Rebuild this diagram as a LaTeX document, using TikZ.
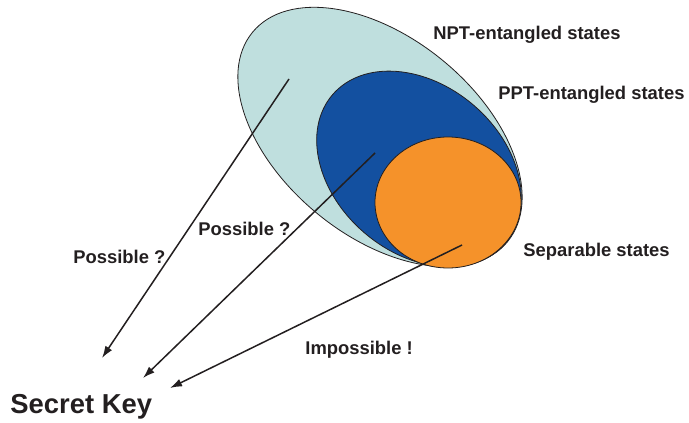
\documentclass[tikz,border=0pt]{standalone}
\usepackage{fontspec}
\setmainfont{Liberation Sans}
\usetikzlibrary{arrows.meta}
\definecolor{nptcol}{RGB}{191,223,222}
\definecolor{pptcol}{RGB}{19,80,160}
\definecolor{sepcol}{RGB}{245,146,42}
\definecolor{inkcol}{RGB}{35,31,32}
\begin{document}
\begin{tikzpicture}[x=0.5pt,y=-0.5pt,
    region/.style={draw=inkcol,line width=0.4pt},
    lbl/.style={anchor=base west,inner sep=0pt,text=inkcol,font=\fontsize{9.2}{11}\selectfont\bfseries},
    arr/.style={draw=inkcol,line width=0.75pt,-{Latex[length=6pt,width=4pt]}}]
  \useasboundingbox (0,0) rectangle (689,422);
  % nested sets of states
  \draw[region,fill=nptcol,rotate around={-39.4:(380,137)}] (380,137) ellipse [x radius=165,y radius=99];
  \draw[region,fill=pptcol,rotate around={-40.7:(419,169)}] (419,169) ellipse [x radius=114,y radius=84];
  \draw[region,fill=sepcol] (448,202.5) ellipse [x radius=73,y radius=65.5];
  % labels
  \node[lbl] (nptlbl) at (433,40) {NPT-entangled states};
  \node[lbl] (pptlbl) at (498,100) {PPT-entangled states};
  \node[lbl] (seplbl) at (523,256) {Separable states};
  \node[lbl] (possa) at (73,263) {Possible ?};
  \node[lbl] (possb) at (198,235) {Possible ?};
  \node[lbl] (imposs) at (305,354) {Impossible !};
  \node[lbl,font=\fontsize{13.7}{16}\selectfont\bfseries] (key) at (10,413) {Secret Key};
  % arrows towards the key
  \coordinate (npt) at (289,79);
  \coordinate (ppt) at (375,153);
  \coordinate (sep) at (462,245);
  \coordinate (tipa) at (102,358);
  \coordinate (tipb) at (143,378);
  \coordinate (tipc) at (170,388);
  \draw[arr] (npt) -- (tipa);
  \draw[arr] (ppt) -- (tipb);
  \draw[arr] (sep) -- (tipc);
\end{tikzpicture}
\end{document}
